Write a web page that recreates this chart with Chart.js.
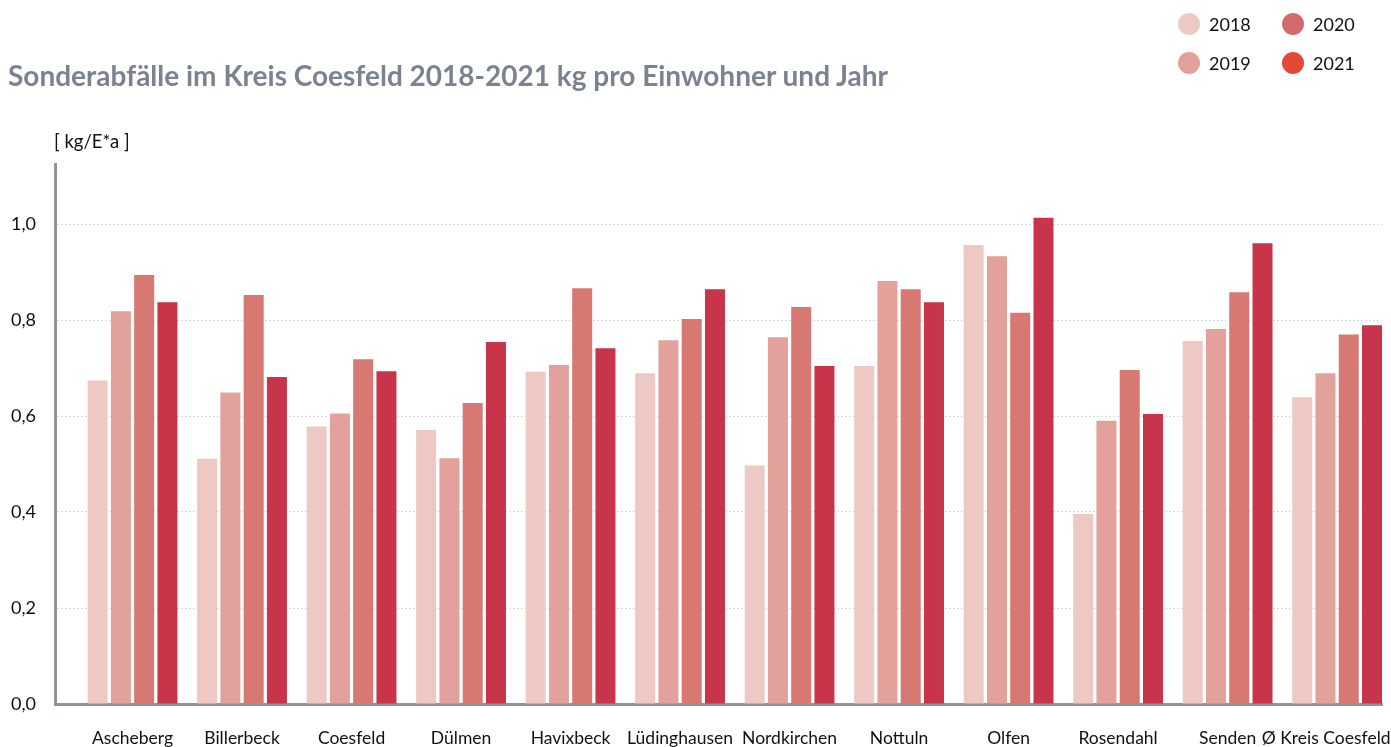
<!DOCTYPE html>
<html lang="de">
<head>
<meta charset="utf-8">
<title>Sonderabfälle im Kreis Coesfeld</title>
<script src="https://cdn.jsdelivr.net/npm/chart.js@4"></script>
<style>
  body { margin: 0; background: #fff; font-family: Lato, "Open Sans", sans-serif; }
  #wrap { position: relative; width: 1391px; height: 747px; overflow: hidden; }
  #chart { position: absolute; left: 0; top: 0; }
  #title { position: absolute; left: 8px; top: 58px; font-size: 28px; font-weight: bold; color: #7b8390; white-space: nowrap; }
  #unit { position: absolute; left: 54px; top: 130px; font-size: 18.5px; color: #111; }
  #legend { position: absolute; left: 1178px; top: 11px; display: grid; grid-template-columns: 104px 104px; grid-auto-flow: column; grid-template-rows: 39px 39px; }
  .item { display: flex; align-items: center; font-size: 18px; color: #111; height: 26px; }
  .dot { width: 22px; height: 22px; border-radius: 50%; margin-right: 9px; }
</style>
</head>
<body>
<div id="wrap">
  <canvas id="chart"></canvas>
  <div id="title">Sonderabfälle im Kreis Coesfeld 2018-2021 kg pro Einwohner und Jahr</div>
  <div id="unit">[ kg/E*a ]</div>
  <div id="legend"></div>
</div>
<script>
// Data (kg per inhabitant and year)
const categories = ['Ascheberg', 'Billerbeck', 'Coesfeld', 'Dülmen', 'Havixbeck', 'Lüdinghausen',
                    'Nordkirchen', 'Nottuln', 'Olfen', 'Rosendahl', 'Senden', 'Ø Kreis Coesfeld'];
const years = ['2018', '2019', '2020', '2021'];
const v2018 = [0.674, 0.511, 0.578, 0.571, 0.692, 0.689, 0.497, 0.704, 0.956, 0.396, 0.756, 0.639];
const v2019 = [0.818, 0.649, 0.605, 0.512, 0.706, 0.758, 0.764, 0.881, 0.933, 0.590, 0.781, 0.689];
const v2020 = [0.894, 0.852, 0.718, 0.627, 0.866, 0.802, 0.827, 0.864, 0.815, 0.696, 0.858, 0.770];
const v2021 = [0.837, 0.681, 0.693, 0.754, 0.741, 0.864, 0.704, 0.837, 1.013, 0.604, 0.960, 0.789];
const barColors = ['#eec9c4', '#e3a19c', '#d77873', '#c83449'];
const legendColors = ['#eec9c4', '#e3a19c', '#d56a6b', '#e24a37'];
const yTickValues = [0, 0.2, 0.4, 0.6, 0.8, 1.0];

const series = [v2018, v2019, v2020, v2021];

// Legend (2 x 2, like the original)
const legend = document.getElementById('legend');
years.forEach((y, i) => {
    const item = document.createElement('div');
    item.className = 'item';
    item.innerHTML = '<span class="dot" style="background:' + legendColors[i] + '"></span>' + y;
    legend.appendChild(item);
});

const canvas = document.getElementById('chart');
canvas.width = 1391;
canvas.height = 747;

Chart.defaults.font.family = 'Lato, "Open Sans", sans-serif';
Chart.defaults.font.size = 18;
Chart.defaults.color = '#111';

const chart = new Chart(canvas.getContext('2d'), {
    type: 'bar',
    data: {
        datasets: series.map((vals, i) => ({
            label: years[i],
            data: vals.map((v, j) => ({ x: j, y: v })),
            backgroundColor: barColors[i],
            borderWidth: 0,
            categoryPercentage: 0.85,
            barPercentage: 0.86,
            clip: false
        }))
    },
    options: {
        responsive: false,
        animation: false,
        layout: { padding: { top: 164, right: 9, left: 0, bottom: 0 } },
        plugins: {
            legend: { display: false },
            tooltip: { enabled: false }
        },
        scales: {
            x: {
                type: 'linear',
                offset: false,
                min: -0.708,
                max: 11.41,
                grid: { display: false, drawTicks: false, offset: false },
                border: { display: true, color: '#8e959e', width: 3 },
                afterBuildTicks: scale => {
                    scale.ticks = categories.map((c, i) => ({ value: i }));
                },
                afterFit: scale => {
                    scale.height = 43;
                    scale.paddingLeft = 0;   // let the last label run to the edge like the original
                    scale.paddingRight = 0;
                },
                ticks: {
                    padding: 24,
                    autoSkip: false,
                    maxRotation: 0,
                    font: { size: 17.5 },
                    // last label is nudged left so it stays inside the picture
                    callback: value => value === categories.length - 1
                        ? categories[value] + '\u2003\u2002'
                        : categories[value]
                }
            },
            y: {
                min: 0,
                max: 1.125,
                grid: { color: '#dcdcdc', lineWidth: 1, drawTicks: false },
                border: { display: true, color: '#8e959e', width: 3, dash: [2, 2] },
                afterBuildTicks: scale => {
                    scale.ticks = yTickValues.map(v => ({ value: v }));
                },
                afterFit: scale => { scale.width = 55; },
                ticks: {
                    padding: 19,
                    callback: value => value.toFixed(1).replace('.', ',')
                }
            }
        }
    }
});
</script>
</body>
</html>
